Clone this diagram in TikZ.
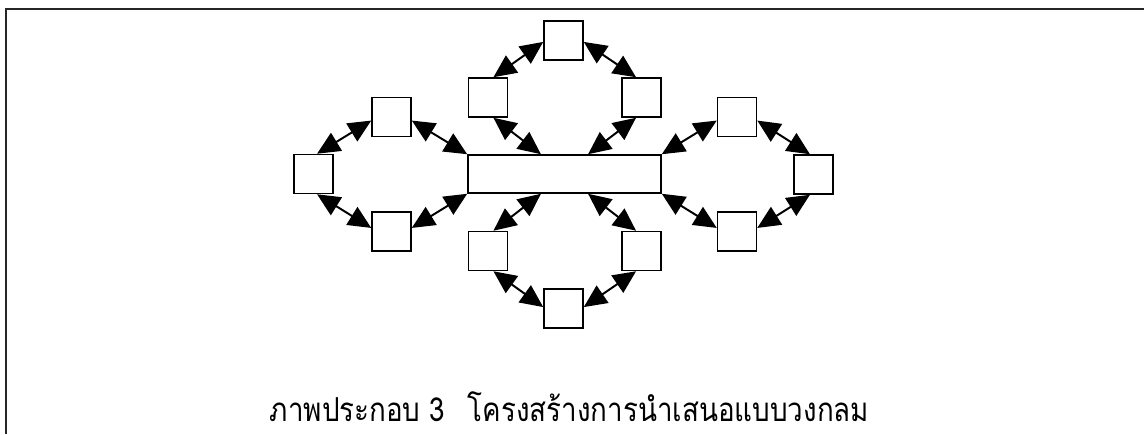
\documentclass[tikz,border=0pt]{standalone}
\usepackage{fontspec}
\newfontfamily\thaifont[Script=Thai, FakeStretch=0.84]{Loma}
\usetikzlibrary{arrows.meta}

\tikzset{
  box/.style={draw=black, fill=white, line width=1.1pt, inner sep=0pt,
              minimum width=0.975cm, minimum height=0.975cm},
  hub/.style={draw=black, fill=white, line width=1.1pt, inner sep=0pt,
              minimum width=4.825cm, minimum height=0.95cm},
  bigtip/.tip={Triangle[length=0.57cm,width=0.52cm]},
  link/.style={line width=1.4pt, bigtip-bigtip},
  frame/.style={line width=1pt, black!85},
  caption/.style={anchor=base, inner sep=0pt}
}

\begin{document}
\begin{tikzpicture}[x=0.025cm, y=-0.025cm]
  \useasboundingbox (0,0) rectangle (1144,434);

  % page frame: top rule and left rule
  \draw[frame] (6,434) -- (6,9) -- (1144,9);

  % central bar
  \node[hub] (bar) at (564.5,174) {};

  % left ring
  \node[box] (L)  at (313.5,174) {};
  \node[box] (LT) at (391.5,117) {};
  \node[box] (LB) at (391.5,231.5) {};

  % right ring
  \node[box] (R)  at (813.5,174.5) {};
  \node[box] (RT) at (737,117) {};
  \node[box] (RB) at (737,231.5) {};

  % top ring
  \node[box] (T)  at (563.5,40.5) {};
  \node[box] (UL) at (488,97.5) {};
  \node[box] (UR) at (641.5,97.5) {};

  % bottom ring
  \node[box] (B)  at (563.5,308.5) {};
  \node[box] (DL) at (488,251) {};
  \node[box] (DR) at (641.5,251) {};

  % left ring links
  \draw[link] (L.80)  -- (LT.190);
  \draw[link] (LT.-10) -- (bar.north west);
  \draw[link] (L.-80) -- (LB.170);
  \draw[link] (LB.10) -- (bar.south west);

  % right ring links
  \draw[link] (R.100)  -- (RT.-10);
  \draw[link] (RT.190) -- (bar.north east);
  \draw[link] (R.-100) -- (RB.10);
  \draw[link] (RB.170) -- (bar.south east);

  % top ring links
  \draw[link] (T.184)  -- (UL.75);
  \draw[link] (UL.-75) -- (bar.140);
  \draw[link] (T.-4)   -- (UR.105);
  \draw[link] (UR.-105) -- (bar.40);

  % bottom ring links
  \draw[link] (B.176)  -- (DL.-75);
  \draw[link] (DL.75)  -- (bar.-140);
  \draw[link] (B.4)    -- (DR.-105);
  \draw[link] (DR.105) -- (bar.-40);

  % caption
  \node[caption] (cap) at (569.5,421)
    {\thaifont\fontsize{23.5}{28}\selectfont ภาพประกอบ 3\hspace{0.4em} โครงสร้างการนำเสนอแบบวงกลม};
\end{tikzpicture}
\end{document}
